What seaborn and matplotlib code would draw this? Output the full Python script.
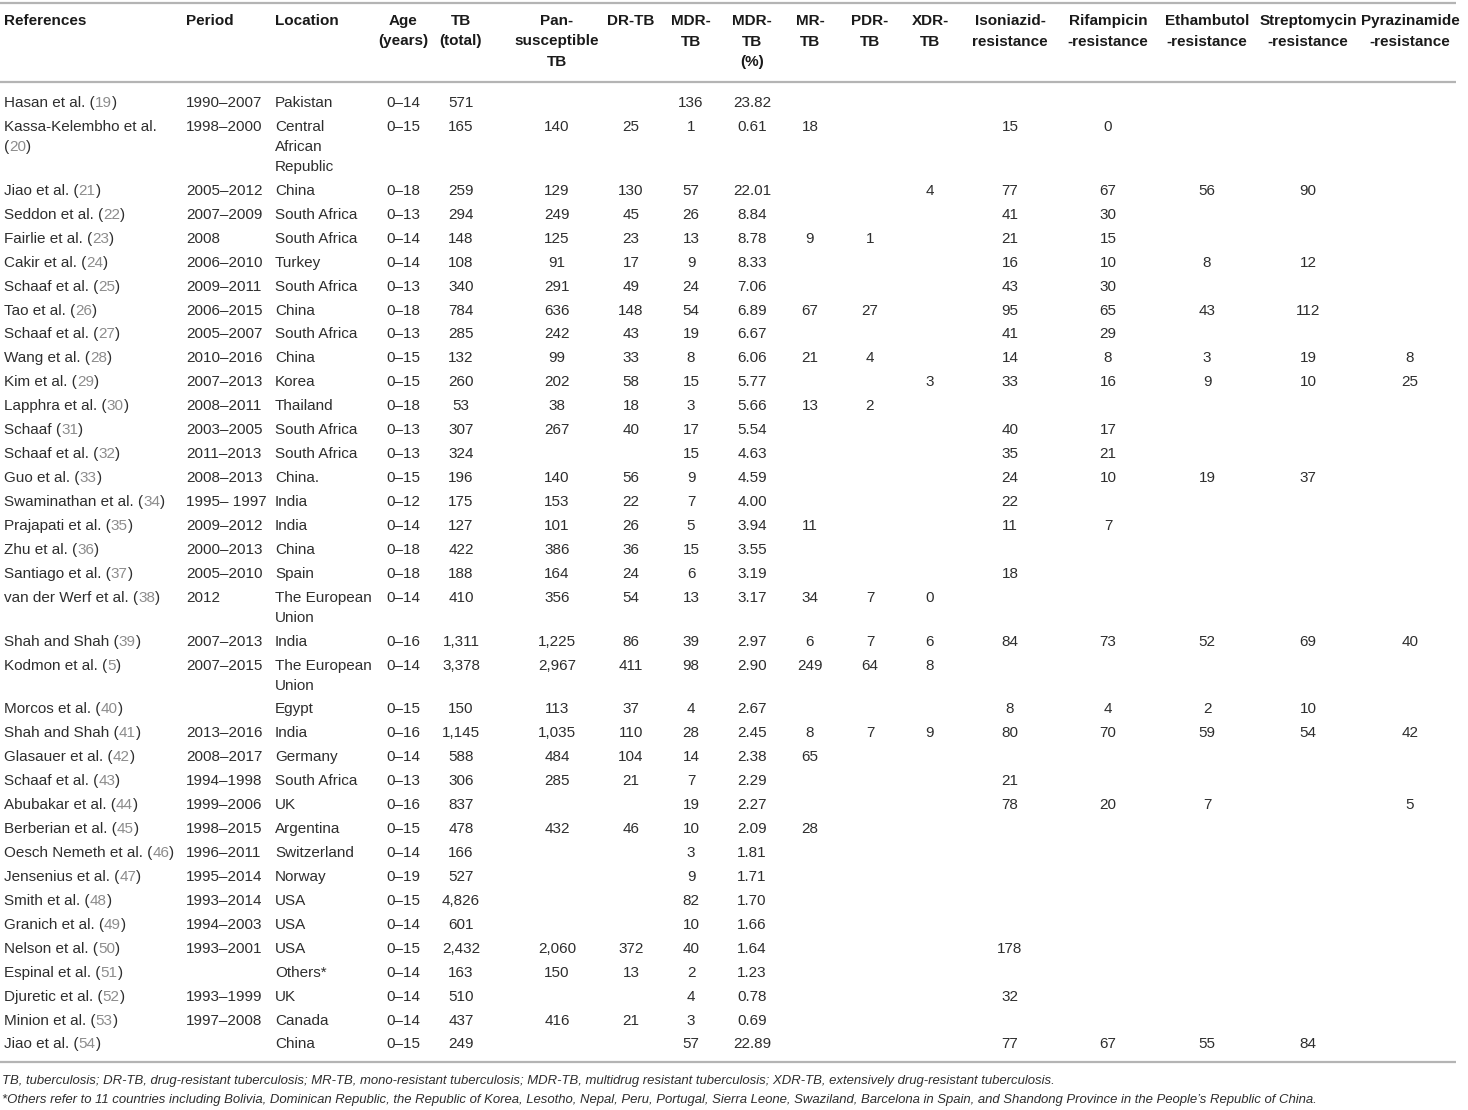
import matplotlib
matplotlib.use("Agg")
import matplotlib.pyplot as plt
import seaborn as sns

# === Table data (one list per column, "" = empty cell) ===
authors = ["Hasan et al.", "Kassa-Kelembho et al.", "Jiao et al.", "Seddon et al.", "Fairlie et al.",
           "Cakir et al.", "Schaaf et al.", "Tao et al.", "Schaaf et al.", "Wang et al.", "Kim et al.",
           "Lapphra et al.", "Schaaf", "Schaaf et al.", "Guo et al.", "Swaminathan et al.",
           "Prajapati et al.", "Zhu et al.", "Santiago et al.", "van der Werf et al.", "Shah and Shah",
           "Kodmon et al.", "Morcos et al.", "Shah and Shah", "Glasauer et al.", "Schaaf et al.",
           "Abubakar et al.", "Berberian et al.", "Oesch Nemeth et al.", "Jensenius et al.",
           "Smith et al.", "Granich et al.", "Nelson et al.", "Espinal et al.", "Djuretic et al.",
           "Minion et al.", "Jiao et al."]
cites = ["19", "20", "21", "22", "23", "24", "25", "26", "27", "28", "29", "30", "31", "32", "33", "34",
         "35", "36", "37", "38", "39", "5", "40", "41", "42", "43", "44", "45", "46", "47", "48", "49",
         "50", "51", "52", "53", "54"]
period = ["1990–2007", "1998–2000", "2005–2012", "2007–2009", "2008", "2006–2010", "2009–2011",
          "2006–2015", "2005–2007", "2010–2016", "2007–2013", "2008–2011", "2003–2005", "2011–2013",
          "2008–2013", "1995– 1997", "2009–2012", "2000–2013", "2005–2010", "2012", "2007–2013",
          "2007–2015", "", "2013–2016", "2008–2017", "1994–1998", "1999–2006", "1998–2015",
          "1996–2011", "1995–2014", "1993–2014", "1994–2003", "1993–2001", "", "1993–1999",
          "1997–2008", ""]
location = ["Pakistan", "Central\nAfrican\nRepublic", "China", "South Africa", "South Africa", "Turkey",
            "South Africa", "China", "South Africa", "China", "Korea", "Thailand", "South Africa",
            "South Africa", "China.", "India", "India", "China", "Spain", "The European\nUnion", "India",
            "The European\nUnion", "Egypt", "India", "Germany", "South Africa", "UK", "Argentina",
            "Switzerland", "Norway", "USA", "USA", "USA", "Others*", "UK", "Canada", "China"]
age = ["0–14", "0–15", "0–18", "0–13", "0–14", "0–14", "0–13", "0–18", "0–13", "0–15", "0–15", "0–18",
       "0–13", "0–13", "0–15", "0–12", "0–14", "0–18", "0–18", "0–14", "0–16", "0–14", "0–15", "0–16",
       "0–14", "0–13", "0–16", "0–15", "0–14", "0–19", "0–15", "0–14", "0–15", "0–14", "0–14", "0–14",
       "0–15"]
tb_total = ["571", "165", "259", "294", "148", "108", "340", "784", "285", "132", "260", "53", "307",
            "324", "196", "175", "127", "422", "188", "410", "1,311", "3,378", "150", "1,145", "588",
            "306", "837", "478", "166", "527", "4,826", "601", "2,432", "163", "510", "437", "249"]
pan_susc = ["", "140", "129", "249", "125", "91", "291", "636", "242", "99", "202", "38", "267", "",
            "140", "153", "101", "386", "164", "356", "1,225", "2,967", "113", "1,035", "484", "285",
            "", "432", "", "", "", "", "2,060", "150", "", "416", ""]
dr_tb = ["", "25", "130", "45", "23", "17", "49", "148", "43", "33", "58", "18", "40", "", "56", "22",
         "26", "36", "24", "54", "86", "411", "37", "110", "104", "21", "", "46", "", "", "", "",
         "372", "13", "", "21", ""]
mdr_tb = ["136", "1", "57", "26", "13", "9", "24", "54", "19", "8", "15", "3", "17", "15", "9", "7", "5",
          "15", "6", "13", "39", "98", "4", "28", "14", "7", "19", "10", "3", "9", "82", "10", "40", "2",
          "4", "3", "57"]
mdr_pct = ["23.82", "0.61", "22.01", "8.84", "8.78", "8.33", "7.06", "6.89", "6.67", "6.06", "5.77",
           "5.66", "5.54", "4.63", "4.59", "4.00", "3.94", "3.55", "3.19", "3.17", "2.97", "2.90", "2.67",
           "2.45", "2.38", "2.29", "2.27", "2.09", "1.81", "1.71", "1.70", "1.66", "1.64", "1.23", "0.78",
           "0.69", "22.89"]
mr_tb = ["", "18", "", "", "9", "", "", "67", "", "21", "", "13", "", "", "", "", "11", "", "", "34",
         "6", "249", "", "8", "65", "", "", "28", "", "", "", "", "", "", "", "", ""]
pdr_tb = ["", "", "", "", "1", "", "", "27", "", "4", "", "2", "", "", "", "", "", "", "", "7", "7",
          "64", "", "7", "", "", "", "", "", "", "", "", "", "", "", "", ""]
xdr_tb = ["", "", "4", "", "", "", "", "", "", "", "3", "", "", "", "", "", "", "", "", "0", "6", "8",
          "", "9", "", "", "", "", "", "", "", "", "", "", "", "", ""]
inh_res = ["", "15", "77", "41", "21", "16", "43", "95", "41", "14", "33", "", "40", "35", "24", "22",
           "11", "", "18", "", "84", "", "8", "80", "", "21", "78", "", "", "", "", "", "178", "",
           "32", "", "77"]
rif_res = ["", "0", "67", "30", "15", "10", "30", "65", "29", "8", "16", "", "17", "21", "10", "", "7",
           "", "", "", "73", "", "4", "70", "", "", "20", "", "", "", "", "", "", "", "", "", "67"]
emb_res = ["", "", "56", "", "", "8", "", "43", "", "3", "9", "", "", "", "19", "", "", "", "", "",
           "52", "", "2", "59", "", "", "7", "", "", "", "", "", "", "", "", "", "55"]
sm_res = ["", "", "90", "", "", "12", "", "112", "", "19", "10", "", "", "", "37", "", "", "", "", "",
          "69", "", "10", "54", "", "", "", "", "", "", "", "", "", "", "", "", "84"]
pza_res = ["", "", "", "", "", "", "", "", "", "8", "25", "", "", "", "", "", "", "", "", "", "40", "",
           "", "42", "", "", "5", "", "", "", "", "", "", "", "", "", ""]

headers = ["References", "Period", "Location", "Age\n(years)", "TB\n(total)", "Pan-\nsusceptible\nTB",
           "DR-TB", "MDR-\nTB", "MDR-\nTB\n(%)", "MR-\nTB", "PDR-\nTB", "XDR-\nTB",
           "Isoniazid-\nresistance", "Rifampicin\n-resistance", "Ethambutol\n-resistance",
           "Streptomycin\n-resistance", "Pyrazinamide\n-resistance"]
footnotes = [
    "TB, tuberculosis; DR-TB, drug-resistant tuberculosis; MR-TB, mono-resistant tuberculosis; "
    "MDR-TB, multidrug resistant tuberculosis; XDR-TB, extensively drug-resistant tuberculosis.",
    "*Others refer to 11 countries including Bolivia, Dominican Republic, the Republic of Korea, "
    "Lesotho, Nepal, Peru, Portugal, Sierra Leone, Swaziland, Barcelona in Spain, and Shandong "
    "Province in the People’s Republic of China.",
]

# layout (pixel units)
col_x = [4, 186, 275, 403, 461, 557, 631, 691, 752, 810, 870, 930, 1010, 1108, 1207, 1308, 1410]
col_ha = ["left", "left", "left"] + ["center"] * 14
num_cols = [age, tb_total, pan_susc, dr_tb, mdr_tb, mdr_pct, mr_tb, pdr_tb, xdr_tb,
            inh_res, rif_res, emb_res, sm_res, pza_res]

TXT = "#2e2e2e"
CITE = "#8c8c8c"
RULE = "#b4b4b4"
BODY = ["Liberation Sans", "DejaVu Sans"]
BODY_SIZE = 11
HEAD = ["Liberation Sans", "DejaVu Sans"]

sns.set_theme(style="white")
fig = plt.figure(figsize=(14.68, 11.10), dpi=100)
ax = fig.add_axes([0, 0, 1, 1])
ax.set_xlim(0, 1468)
ax.set_ylim(1110, 0)
ax.axis("off")
renderer = fig.canvas.get_renderer()


def width_of(t):
    return t.get_window_extent(renderer).width


def body_text(x, y, s, ha="left", color=TXT):
    return ax.text(x, y, s, ha=ha, va="center", fontsize=BODY_SIZE, family=BODY, color=color)


# rules
for yy in [3, 82, 1062]:
    ax.plot([0, 1456], [yy, yy], color=RULE, lw=1.6, solid_capstyle="butt")

# header
for x, ha, h in zip(col_x, col_ha, headers):
    for k, line in enumerate(h.split("\n")):
        ax.text(x, 21 + 20.5 * k, line, ha=ha, va="center", fontsize=11,
                fontweight="bold", family=HEAD, color="#1a1a1a")

# body
y = 103
for i in range(len(authors)):
    nlines = 1
    # reference with grey citation number
    probe = body_text(col_x[0], y, authors[i] + " (" + cites[i] + ")")
    too_wide = width_of(probe) > 178
    probe.remove()
    if too_wide:
        body_text(col_x[0], y, authors[i])
        x0, yl = col_x[0], y + 20
        t1 = body_text(x0, yl, "(")
        nlines = 2
    else:
        x0, yl = col_x[0], y
        t1 = body_text(x0, yl, authors[i] + " (")
    x0 += width_of(t1)
    t2 = body_text(x0, yl, cites[i], color=CITE)
    body_text(x0 + width_of(t2), yl, ")")

    body_text(col_x[1], y, period[i])
    loc_lines = location[i].split("\n")
    for k, line in enumerate(loc_lines):
        body_text(col_x[2], y + 20 * k, line)
    nlines = max(nlines, len(loc_lines))
    for x, col in zip(col_x[3:], num_cols):
        if col[i]:
            body_text(x, y, col[i], ha="center")
    y += 23.93 + 20 * (nlines - 1)

# footnotes
for k, note in enumerate(footnotes):
    ax.text(2, 1081 + 19 * k, note, ha="left", va="center", fontsize=9.45,
            family=BODY, style="italic", color=TXT)

fig.savefig("out.png", dpi=100)
